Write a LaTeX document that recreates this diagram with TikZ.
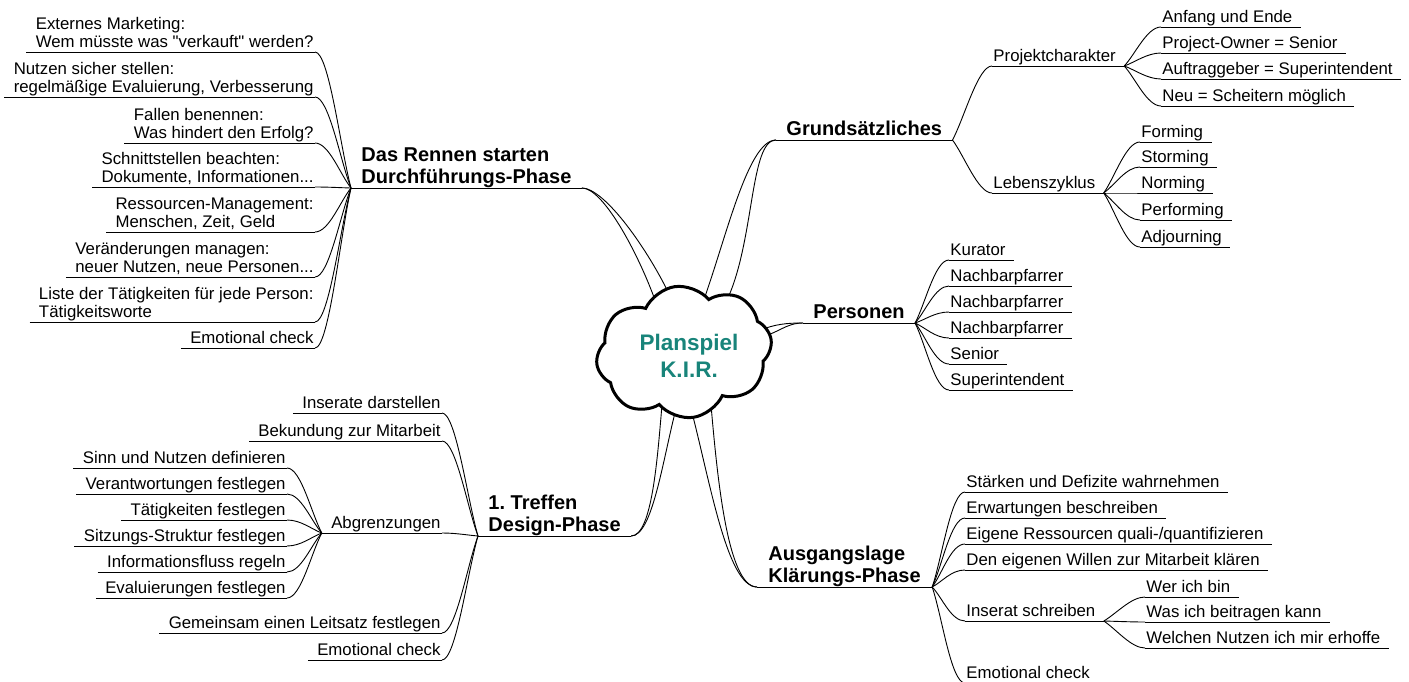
\documentclass[tikz,border=0pt]{standalone}
\usepackage{fontspec}
\newfontfamily\mapsans{Liberation Sans}
\usetikzlibrary{shapes.symbols,calc}
\definecolor{kirteal}{RGB}{24,132,122}
\frenchspacing
\tikzset{
  leaf/.style={font=\mapsans\fontsize{16.8}{18}\selectfont, inner xsep=1pt, inner ysep=4.5pt, text depth=0pt, align=left},
  leafL/.style={leaf, anchor=south east},
  leafR/.style={leaf, anchor=south west},
  topic/.style={font=\mapsans\fontsize{20}{22}\selectfont\bfseries, inner xsep=10pt, inner ysep=4pt, text depth=0pt, anchor=south west, align=left},
  twigL/.style={to path={.. controls ($(\tikztostart)!0.3!(\tikztotarget)$) and ($(\tikztotarget)+(14,0)$) .. (\tikztotarget)}},
  twigR/.style={to path={.. controls ($(\tikztostart)!0.3!(\tikztotarget)$) and ($(\tikztotarget)+(-14,0)$) .. (\tikztotarget)}},
  trunk/.style={out looseness=0.4, in looseness=1},
}
\begin{document}
\begin{tikzpicture}[x=1pt, y=1pt, line width=0.9pt]
\useasboundingbox (0,0) rectangle (1409,-681);

% main topics
\node[topic] (rennen) at (351,-188) {Das Rennen starten\\Durchführungs-Phase};
\node[topic] (grund) at (776,-140) {Grundsätzliches};
\node[topic] (pers) at (803,-323) {Personen};
\node[topic, inner xsep=11pt] (ausg) at (757,-587) {Ausgangslage\\Klärungs-Phase};
\node[topic] (treffen) at (478,-536) {1. Treffen\\Design-Phase};

% Das Rennen starten
\node[leafL] (ext) at (315,-52) {Externes Marketing:\\Wem müsste was "verkauft" werden?};
\node[leafL] (nutz) at (315,-97) {Nutzen sicher stellen:\\regelmäßige Evaluierung, Verbesserung};
\node[leafL] (fall) at (315,-143) {Fallen benennen:\\Was hindert den Erfolg?};
\node[leafL] (schn) at (315,-187) {Schnittstellen beachten:\\Dokumente, Informationen...};
\node[leafL] (ress) at (315,-232) {Ressourcen-Management:\\Menschen, Zeit, Geld};
\node[leafL] (ver) at (315,-277) {Veränderungen managen:\\neuer Nutzen, neue Personen...};
\node[leafL] (liste) at (315,-322) {Liste der Tätigkeiten für jede Person:\\Tätigkeitsworte};
\node[leafL] (emo1) at (315,-348) {Emotional check};

% 1. Treffen
\node[leafL] (ins) at (442,-413) {Inserate darstellen};
\node[leafL] (bek) at (442,-441) {Bekundung zur Mitarbeit};
\node[leafL] (abgr) at (442,-533) {Abgrenzungen};
\node[leafL] (leit) at (442,-633) {Gemeinsam einen Leitsatz festlegen};
\node[leafL] (emo2) at (442,-660) {Emotional check};
\node[leafL] (sinn) at (287,-468) {Sinn und Nutzen definieren};
\node[leafL] (verant) at (287,-494) {Verantwortungen festlegen};
\node[leafL] (taet) at (287,-520) {Tätigkeiten festlegen};
\node[leafL] (sitz) at (287,-546) {Sitzungs-Struktur festlegen};
\node[leafL] (info) at (287,-572) {Informationsfluss regeln};
\node[leafL] (eval) at (287,-598) {Evaluierungen festlegen};

% Grundsaetzliches
\node[leafR] (proj) at (992,-66) {Projektcharakter};
\node[leafR] (leben) at (992,-193) {Lebenszyklus};
\node[leafR] (anf) at (1161,-27) {Anfang und Ende};
\node[leafR] (owner) at (1161,-53) {Project-Owner = Senior};
\node[leafR] (auftr) at (1161,-79) {Auftraggeber = Superintendent};
\node[leafR] (neu) at (1161,-106) {Neu = Scheitern möglich};
\node[leafR] (form) at (1140,-142) {Forming};
\node[leafR] (storm) at (1140,-167) {Storming};
\node[leafR] (norm) at (1140,-193) {Norming};
\node[leafR] (perf) at (1140,-220) {Performing};
\node[leafR] (adj) at (1140,-247) {Adjourning};

% Personen
\node[leafR] (kur) at (949,-260) {Kurator};
\node[leafR] (nach1) at (949,-286) {Nachbarpfarrer};
\node[leafR] (nach2) at (949,-312) {Nachbarpfarrer};
\node[leafR] (nach3) at (949,-338) {Nachbarpfarrer};
\node[leafR] (sen) at (949,-364) {Senior};
\node[leafR] (sup) at (949,-390) {Superintendent};

% Ausgangslage
\node[leafR] (staerk) at (965,-492) {Stärken und Defizite wahrnehmen};
\node[leafR] (erw) at (965,-518) {Erwartungen beschreiben};
\node[leafR] (eig) at (965,-544) {Eigene Ressourcen quali-/quantifizieren};
\node[leafR] (will) at (965,-570) {Den eigenen Willen zur Mitarbeit klären};
\node[leafR] (insrt) at (965,-621) {Inserat schreiben};
\node[leafR] (emo3) at (965,-683) {Emotional check};
\node[leafR] (wer) at (1145,-597) {Wer ich bin};
\node[leafR] (was) at (1145,-622) {Was ich beitragen kann};
\node[leafR] (welch) at (1145,-648) {Welchen Nutzen ich mir erhoffe};

% underlines
\foreach \n in {rennen,grund,pers,ausg,treffen}
  \draw (\n.south west) -- (\n.south east);
\foreach \n in {ext,nutz,fall,schn,ress,ver,liste,emo1,ins,bek,abgr,leit,emo2,sinn,verant,taet,sitz,info,eval}
  \draw ([xshift=-8pt]\n.south west) -- (\n.south east);
\foreach \n in {proj,leben,anf,owner,auftr,neu,form,storm,norm,perf,adj,kur,nach1,nach2,nach3,sen,sup,staerk,erw,eig,will,insrt,emo3,wer,was,welch}
  \draw (\n.south west) -- ([xshift=7pt]\n.south east);

\coordinate (abgr-j) at ([xshift=-8pt]abgr.south west);
\coordinate (proj-j) at ([xshift=7pt]proj.south east);
\coordinate (leben-j) at ([xshift=7pt]leben.south east);
\coordinate (insrt-j) at ([xshift=7pt]insrt.south east);

% branches
\foreach \c in {ext,nutz,fall,schn,ress,ver,liste,emo1}
  \draw (rennen.south west) to[twigL] (\c.south east);
\foreach \c in {ins,bek,abgr,leit,emo2}
  \draw (treffen.south west) to[twigL] (\c.south east);
\foreach \c in {sinn,verant,taet,sitz,info,eval}
  \draw (abgr-j) to[twigL] (\c.south east);
\foreach \c in {proj,leben}
  \draw (grund.south east) to[twigR] (\c.south west);
\foreach \c in {anf,owner,auftr,neu}
  \draw (proj-j) to[twigR] (\c.south west);
\foreach \c in {form,storm,norm,perf,adj}
  \draw (leben-j) to[twigR] (\c.south west);
\foreach \c in {kur,nach1,nach2,nach3,sen,sup}
  \draw (pers.south east) to[twigR] (\c.south west);
\foreach \c in {staerk,erw,eig,will,insrt,emo3}
  \draw (ausg.south east) to[twigR] (\c.south west);
\foreach \c in {wer,was,welch}
  \draw (insrt-j) to[twigR] (\c.south west);

% trunks into the cloud
\coordinate (c-rennen1) at (655,-300);
\coordinate (c-rennen2) at (672,-300);
\coordinate (c-grund1) at (702,-305);
\coordinate (c-grund2) at (727,-300);
\coordinate (c-pers1) at (760,-330);
\coordinate (c-pers2) at (760,-337);
\coordinate (c-ausg1) at (690,-405);
\coordinate (c-ausg2) at (711,-405);
\coordinate (c-treff1) at (662,-405);
\coordinate (c-treff2) at (677,-405);
\draw (rennen.south east) to[out=0, in=110, trunk] (c-rennen1);
\draw (rennen.south east) to[out=0, in=115, trunk] (c-rennen2);
\draw (grund.south west) to[out=180, in=70, trunk] (c-grund1);
\draw (grund.south west) to[out=180, in=65, trunk] (c-grund2);
\draw (pers.south west) to[out=180, in=20] (c-pers1);
\draw (pers.south west) to[out=180, in=10] (c-pers2);
\draw (ausg.south west) to[out=180, in=-75, trunk] (c-ausg1);
\draw (ausg.south west) to[out=180, in=-85, trunk] (c-ausg2);
\draw (treffen.south east) to[out=0, in=-95, trunk] (c-treff1);
\draw (treffen.south east) to[out=0, in=-105, trunk] (c-treff2);

% centre
\node[cloud, cloud puffs=8, cloud puff arc=115, aspect=1.35, draw, line width=3pt, fill=white,
  minimum width=176pt, minimum height=132pt, inner sep=0pt, rotate=8] (kir) at (684,-352) {};
\node[font=\mapsans\fontsize{22.5}{27}\selectfont\bfseries, text=kirteal, align=center] (kirlabel) at (689,-356) {Planspiel\\K.I.R.};

\end{tikzpicture}
\end{document}
